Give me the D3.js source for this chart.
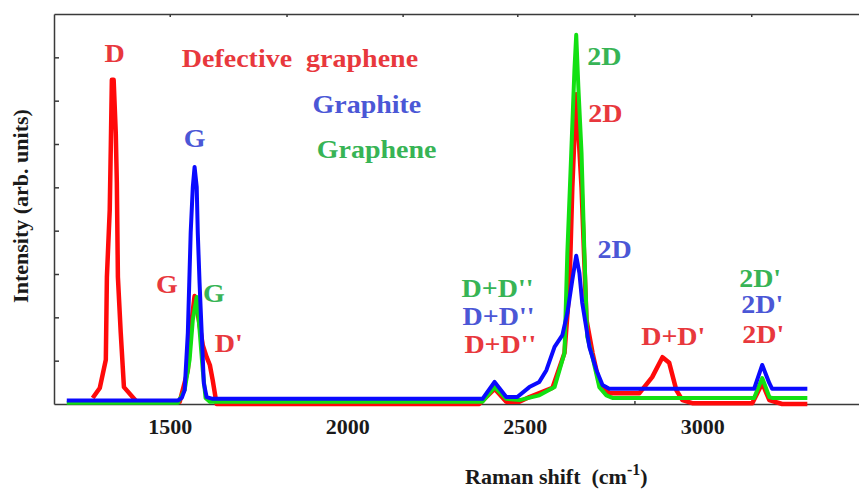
<!DOCTYPE html>
<html>
<head>
<meta charset="utf-8">
<script src="https://cdnjs.cloudflare.com/ajax/libs/d3/7.8.5/d3.min.js"></script>
<style>
body{margin:0;background:#fff;}
text{font-family:"Liberation Serif","Times New Roman",serif;font-weight:bold;}
</style>
</head>
<body>
<div class="raman"></div>
<script>
// spectra: [raman shift (cm-1), intensity (arb.)]
var defectiveData = [[1283,0.14],[1303,0.37],[1320,1.02],[1323,2.93],[1331,4.48],[1334,5.93],[1337,7.48],[1342,7.48],
    [1348,6.25],[1351,5.10],[1354,2.93],[1362,1.64],[1371,0.39],[1407,0.05],[1528,0.05],[1551,0.78],[1562,1.94],
    [1570,2.49],[1582,1.94],[1593,1.36],[1604,1.08],[1613,0.90],[1621,0.55],[1632,0.0],[2372,0.0],[2415,0.35],
    [2448,0.05],[2485,0.05],[2513,0.16],[2578,0.37],[2612,1.18],[2626,2.70],[2634,5.0],[2645,7.15],[2660,5.0],
    [2674,1.94],[2691,1.18],[2710,0.48],[2738,0.25],[2823,0.25],[2859,0.62],[2888,1.08],[2907,0.95],[2927,0.32],
    [2944,0.09],[2972,0.02],[3141,0.02],[3169,0.48],[3189,0.09],[3225,0.0],[3296,0.0]];

var grapheneData = [[1210,0.03],[1523,0.03],[1542,0.32],[1556,1.02],[1565,1.94],[1576,2.47],[1584,1.71],[1593,0.78],
    [1601,0.14],[1613,0.05],[2381,0.05],[2415,0.39],[2448,0.12],[2485,0.09],[2541,0.2],[2584,0.39],[2612,1.18],
    [2620,3.49],[2631,5.79],[2640,7.71],[2645,8.52],[2651,7.32],[2660,5.79],[2668,3.49],[2676,1.55],[2691,1.08],
    [2710,0.39],[2730,0.2],[2747,0.14],[3146,0.14],[3169,0.60],[3189,0.16],[3197,0.14],[3296,0.14]];

var graphiteData = [[1210,0.08],[1523,0.08],[1534,0.14],[1542,0.32],[1551,1.64],[1559,3.95],[1565,5.01],[1570,5.47],
    [1576,5.01],[1579,3.95],[1584,2.8],[1590,1.64],[1596,0.48],[1604,0.16],[1621,0.12],[2381,0.12],[2415,0.51],
    [2448,0.16],[2479,0.16],[2513,0.39],[2541,0.51],[2561,0.78],[2584,1.32],[2606,1.59],[2620,2.10],[2634,2.86],
    [2645,3.42],[2654,3.02],[2662,2.33],[2682,1.32],[2702,0.78],[2719,0.44],[2738,0.35],[3146,0.35],[3169,0.90],
    [3189,0.48],[3197,0.35],[3296,0.35]];

var tickLabels = [1500, 2000, 2500, 3000];
var tickMarks = [1500, 1829, 2156, 2479, 2809, 3138];
var intensityTicks = [1, 2, 3, 4, 5, 6, 7, 8];

// [text, shift, intensity, colour, anchor]
var peakLabels = [
    ["D", 1345, 7.89, "#e8383d", "middle"],
    ["Defective\u00a0 graphene", 1534, 7.78, "#e8383d", "start"],
    ["Graphite", 1902, 6.72, "#4b57d6", "start"],
    ["Graphene", 1914, 5.68, "#37b455", "start"],
    ["G", 1570, 5.93, "#4b57d6", "middle"],
    ["G", 1492, 2.56, "#e8383d", "middle"],
    ["G", 1624, 2.35, "#37b455", "middle"],
    ["D'", 1627, 1.20, "#e8383d", "start"],
    ["2D", 2676, 7.82, "#37b455", "start"],
    ["2D", 2679, 6.51, "#e8383d", "start"],
    ["2D", 2705, 3.37, "#4b57d6", "start"],
    ["D+D''", 2322, 2.47, "#37b455", "start"],
    ["D+D''", 2325, 1.82, "#4b57d6", "start"],
    ["D+D''", 2330, 1.18, "#e8383d", "start"],
    ["D+D'", 2828, 1.36, "#e8383d", "start"],
    ["2D'", 3104, 2.70, "#37b455", "start"],
    ["2D'", 3110, 2.10, "#4b57d6", "start"],
    ["2D'", 3113, 1.41, "#e8383d", "start"]
];

var width = 859,
    height = 489;
var margin = {top: 14, left: 54, bottom: 404};

var svg = d3.select(".raman").append("svg")
    .attr("width", width)
    .attr("height", height);

var x = d3.scaleLinear().domain([1174, 3450]).range([margin.left, 862]);
var y = d3.scaleLinear().domain([0, 9]).range([margin.bottom, margin.top]);

// frame + inner ticks
var axisColor = "#3a3a3a";
svg.append("g")
    .attr("transform", "translate(0," + margin.bottom + ")")
    .call(d3.axisBottom(x).tickValues(tickMarks).tickSizeInner(-3).tickSizeOuter(0).tickFormat(""))
    .attr("color", axisColor).attr("stroke-width", 1.5);
svg.append("g")
    .attr("transform", "translate(0," + margin.top + ")")
    .call(d3.axisTop(x).tickValues(tickMarks).tickSizeInner(-3).tickSizeOuter(0).tickFormat(""))
    .attr("color", axisColor).attr("stroke-width", 1.5);
svg.append("g")
    .attr("transform", "translate(" + margin.left + ",0)")
    .call(d3.axisLeft(y).tickValues(intensityTicks).tickSizeInner(-5).tickSizeOuter(0).tickFormat(""))
    .attr("color", axisColor).attr("stroke-width", 1.5);

// tick labels
var labelAxis = svg.append("g")
    .attr("transform", "translate(0," + margin.bottom + ")")
    .call(d3.axisBottom(x).tickValues(tickLabels).tickSize(0).tickPadding(14).tickFormat(d3.format("d")));
labelAxis.select(".domain").remove();
labelAxis.selectAll("text")
    .attr("fill", "#1a1a1a")
    .style("font-size", "22px")
    .style("font-family", "'Liberation Serif','Times New Roman',serif")
    .style("font-weight", "bold");

// spectra
var line = d3.line()
    .x(function(d) { return x(d[0]); })
    .y(function(d) { return y(d[1]); });

var series = [
    {data: defectiveData, color: "#ff0a0a", w: 4.5},
    {data: grapheneData, color: "#12e012", w: 4},
    {data: graphiteData, color: "#0a0aff", w: 4}
];
svg.selectAll(".spectrum")
    .data(series)
    .enter().append("path")
    .attr("class", "spectrum")
    .attr("d", function(d) { return line(d.data); })
    .attr("fill", "none")
    .attr("stroke", function(d) { return d.color; })
    .attr("stroke-width", function(d) { return d.w; })
    .attr("stroke-linejoin", "round");

// peak labels (the original text is a bit stretched horizontally)
svg.selectAll(".peak")
    .data(peakLabels)
    .enter().append("text")
    .attr("class", "peak")
    .attr("transform", function(d) { return "translate(" + x(d[1]) + "," + y(d[2]) + ") scale(1.12,1)"; })
    .attr("text-anchor", function(d) { return d[4]; })
    .attr("fill", function(d) { return d[3]; })
    .style("font-size", "25px")
    .text(function(d) { return d[0]; });

// axis titles
svg.append("text")
    .attr("transform", "translate(28,206) rotate(-90)")
    .attr("text-anchor", "middle")
    .attr("fill", "#1a1a1a")
    .style("font-size", "22px")
    .text("Intensity (arb. units)");

var xt = svg.append("text")
    .attr("x", 465)
    .attr("y", 484)
    .attr("fill", "#1a1a1a")
    .style("font-size", "22px");
xt.append("tspan").text("Raman shift\u00a0 (cm");
xt.append("tspan").attr("dy", -9).style("font-size", "16px").text("-1");
xt.append("tspan").attr("dy", 9).text(")");
</script>
</body>
</html>
